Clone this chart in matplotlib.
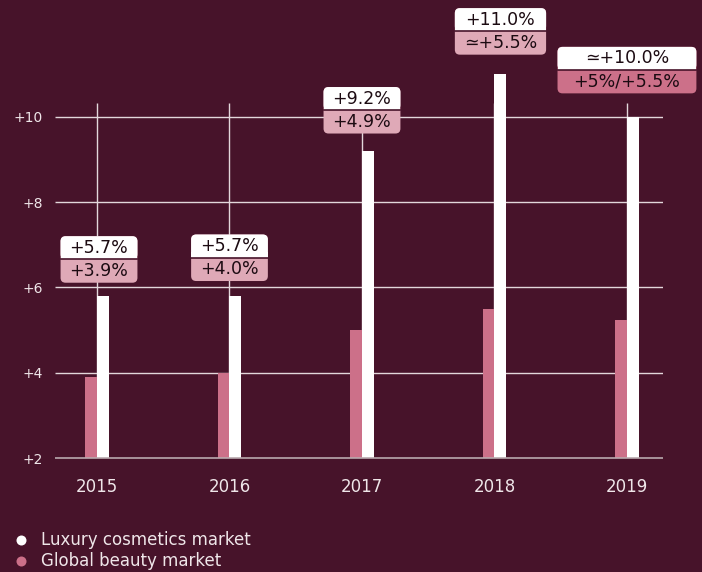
import numpy as np
import matplotlib
matplotlib.use('Agg')
import matplotlib.pyplot as plt
import matplotlib.transforms as mtransforms
from matplotlib.patches import FancyBboxPatch, Rectangle
from matplotlib.lines import Line2D

# ---------------------------------------------------------------------------
# data
years = ['2015', '2016', '2017', '2018', '2019']
luxury = [5.8, 5.8, 9.2, 11.0, 10.0]
beauty = [3.9, 4.0, 5.0, 5.5, 5.25]
luxury_labels = ['+5.7%', '+5.7%', '+9.2%', '+11.0%', '\u2243+10.0%']
beauty_labels = ['+3.9%', '+4.0%', '+4.9%', '\u2243+5.5%', '+5%/+5.5%']
yticks = [2, 4, 6, 8, 10]
ytick_labels = ['+2', '+4', '+6', '+8', '+10']
legend_labels = ['Luxury cosmetics market', 'Global beauty market']

# ---------------------------------------------------------------------------
BG = '#47132a'
WHITE = '#ffffff'
PINK = '#cc7089'
PINK_LIGHT = '#dfa9b7'
INK = '#1c0b12'
GRID = '#e3d7db'
BASE = '#b9a9ae'
TXT = '#efe6e9'
FONT = ['DejaVu Sans']

plt.rcParams['font.family'] = FONT

W_PX, H_PX, DPI = 702, 572, 100
fig = plt.figure(figsize=(W_PX / DPI, H_PX / DPI), dpi=DPI, facecolor=BG)
ax = fig.add_axes([55 / W_PX, 1 - 458.3 / H_PX,
                   (663 - 55) / W_PX, (458.3 - 103) / H_PX])
ax.set_facecolor(BG)

x = np.arange(len(years))
xmin, xmax = -0.317, 4.272
ymin, ymax = 2, 10.32
ax.set_xlim(xmin, xmax)
ax.set_ylim(ymin, ymax)

bw = 0.088
ax.hlines(yticks[1:], xmin, xmax, color=GRID, lw=1.0, zorder=1)
ax.hlines(yticks[0], xmin, xmax, color=BASE, lw=1.2, zorder=4, clip_on=False)
ax.vlines(x, ymin, ymax, color=GRID, lw=1.0, zorder=1)
ax.bar(x - bw / 2, [b - ymin for b in beauty], bw, bottom=ymin,
       color=PINK, zorder=3, clip_on=False)
ax.bar(x + bw / 2, [v - ymin for v in luxury], bw, bottom=ymin,
       color=WHITE, zorder=3, clip_on=False)

for s in ax.spines.values():
    s.set_visible(False)
ax.set_yticks(yticks, ytick_labels)
ax.set_xticks(x, years)
ax.tick_params(axis='y', length=0, pad=8.6, labelsize=10, labelcolor=TXT)
ax.tick_params(axis='x', length=0, pad=14.5, labelsize=12, labelcolor=TXT)

# ---------------------------------------------------------------------------
# two-part value boxes, laid out in pixels above each white bar
fig.canvas.draw()
renderer = fig.canvas.get_renderer()
ident = mtransforms.IdentityTransform()
top_h, bot_h, rad = 23, 23.5, 5
gaps = [13.3, 15, 17.3, 19.3, 23.3]
pads = [9, 9, 9, 9, 16]
shifts = [2, 0, 0, 6, 0]
lower_colors = [PINK_LIGHT, PINK_LIGHT, PINK_LIGHT, PINK_LIGHT, PINK]

for i in range(len(years)):
    cx, py = ax.transData.transform((x[i], luxury[i]))
    cx += shifts[i]
    y0 = py + gaps[i]
    mid = y0 + bot_h
    t_top = fig.text(cx, mid + top_h / 2, luxury_labels[i], transform=ident,
                     ha='center', va='center', fontsize=12.5, color=INK,
                     zorder=12)
    t_bot = fig.text(cx, y0 + bot_h / 2, beauty_labels[i], transform=ident,
                     ha='center', va='center', fontsize=12.5, color=INK,
                     zorder=12)
    tw = max(t_top.get_window_extent(renderer).width,
             t_bot.get_window_extent(renderer).width)
    bw_px = tw + 2 * pads[i]
    left = cx - bw_px / 2
    fig.add_artist(FancyBboxPatch((left, y0), bw_px, bot_h + top_h,
                                  boxstyle=f'round,pad=0,rounding_size={rad}',
                                  fc=lower_colors[i], ec='none',
                                  transform=ident, zorder=10))
    fig.add_artist(FancyBboxPatch((left, mid), bw_px, top_h,
                                  boxstyle=f'round,pad=0,rounding_size={rad}',
                                  fc=WHITE, ec='none',
                                  transform=ident, zorder=10))
    fig.add_artist(Rectangle((left, mid), bw_px, rad + 1,
                             fc=WHITE, ec='none', transform=ident, zorder=10))
    fig.add_artist(Line2D([left, left + bw_px], [mid, mid],
                          color=BG, lw=1.2, transform=ident, zorder=11))

# ---------------------------------------------------------------------------
# legend
for lab, col, ypx in zip(legend_labels, [WHITE, PINK], [540, 561]):
    yy = 1 - ypx / H_PX
    fig.add_artist(Line2D([20.7 / W_PX], [yy], marker='o', ms=7.2, color=col,
                          mec='none', transform=fig.transFigure))
    fig.text(40.7 / W_PX, yy, lab, ha='left', va='center', fontsize=12,
             color=TXT)

fig.savefig('out.png', dpi=DPI, facecolor=BG)
